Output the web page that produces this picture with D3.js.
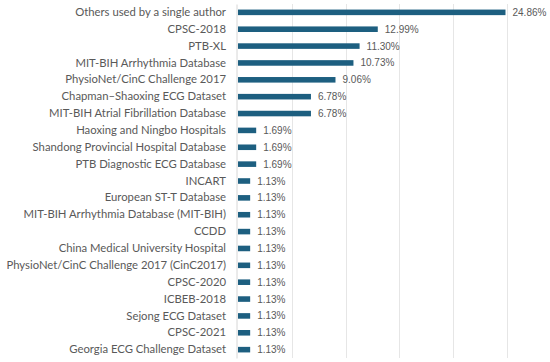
<!DOCTYPE html>
<html>
<head>
<meta charset="utf-8">
<script src="https://cdn.jsdelivr.net/npm/d3@7"></script>
<style>
  body { margin: 0; background: #fff; }
  svg { display: block; }
</style>
</head>
<body>
<div id="chart"></div>
<script>
// datasets and their share of use (%)
var datasets = [
  "Others used by a single author",
  "CPSC-2018",
  "PTB-XL",
  "MIT-BIH Arrhythmia Database",
  "PhysioNet/CinC Challenge 2017",
  "Chapman\u2013Shaoxing ECG Dataset",
  "MIT-BIH Atrial Fibrillation Database",
  "Haoxing and Ningbo Hospitals",
  "Shandong Provincial Hospital Database",
  "PTB Diagnostic ECG Database",
  "INCART",
  "European ST-T Database",
  "MIT-BIH Arrhythmia Database (MIT-BIH)",
  "CCDD",
  "China Medical University Hospital",
  "PhysioNet/CinC Challenge 2017 (CinC2017)",
  "CPSC-2020",
  "ICBEB-2018",
  "Sejong ECG Dataset",
  "CPSC-2021",
  "Georgia ECG Challenge Dataset"
];
var shares = [24.86, 12.99, 11.30, 10.73, 9.06, 6.78, 6.78, 1.69, 1.69, 1.69,
  1.13, 1.13, 1.13, 1.13, 1.13, 1.13, 1.13, 1.13, 1.13, 1.13, 1.13];
var gridTicks = [0, 5, 10, 15, 20, 25];

var svgWidth = 550;
var svgHeight = 362;

var margin = { top: 4, right: 43, bottom: 4, left: 238 };
var width = svgWidth - margin.left - margin.right;
var height = svgHeight - margin.top - margin.bottom;

var svg = d3.select("#chart")
  .append("svg")
  .attr("width", svgWidth)
  .attr("height", svgHeight);

var chartGroup = svg.append("g")
  .attr("transform", `translate(${margin.left}, ${margin.top})`);

var xScale = d3.scaleLinear()
  .domain([0, 25])
  .range([0, 269]);

var yScale = d3.scaleBand()
  .domain(datasets)
  .range([0, height])
  .paddingInner(0.67)
  .paddingOuter(0.33);

// vertical gridlines
chartGroup.append("g")
  .selectAll("line")
  .data(gridTicks.slice(1))
  .enter()
  .append("line")
  .attr("x1", d => Math.round(xScale(d)) + 0.5)
  .attr("x2", d => Math.round(xScale(d)) + 0.5)
  .attr("y1", 0)
  .attr("y2", height)
  .attr("stroke", "#e6e6e6")
  .attr("stroke-width", 1);

// category axis
var leftAxis = d3.axisLeft(yScale).tickSize(0).tickPadding(10.5);
var axisG = chartGroup.append("g")
  .attr("transform", "translate(-1.5, 0)")
  .call(leftAxis);
axisG.select(".domain").attr("stroke", "#d6d6d6");
axisG.selectAll("text")
  .attr("font-family", "Lato, 'Open Sans', sans-serif")
  .attr("font-size", "11.3px")
  .attr("fill", "#595959");

// bars
chartGroup.selectAll(".bar")
  .data(shares)
  .enter()
  .append("rect")
  .attr("class", "bar")
  .attr("x", xScale(0))
  .attr("y", (d, i) => yScale(datasets[i]))
  .attr("width", d => xScale(d))
  .attr("height", yScale.bandwidth())
  .attr("fill", "#1d5f80");

// value labels
chartGroup.selectAll(".val")
  .data(shares)
  .enter()
  .append("text")
  .attr("class", "val")
  .attr("x", d => xScale(d) + 7)
  .attr("y", (d, i) => yScale(datasets[i]) + yScale.bandwidth() / 2)
  .attr("dy", "0.35em")
  .attr("font-family", "'Liberation Sans', Arial, sans-serif")
  .attr("font-size", "10px")
  .attr("fill", "#595959")
  .text(d => d.toFixed(2) + "%");
</script>
</body>
</html>
